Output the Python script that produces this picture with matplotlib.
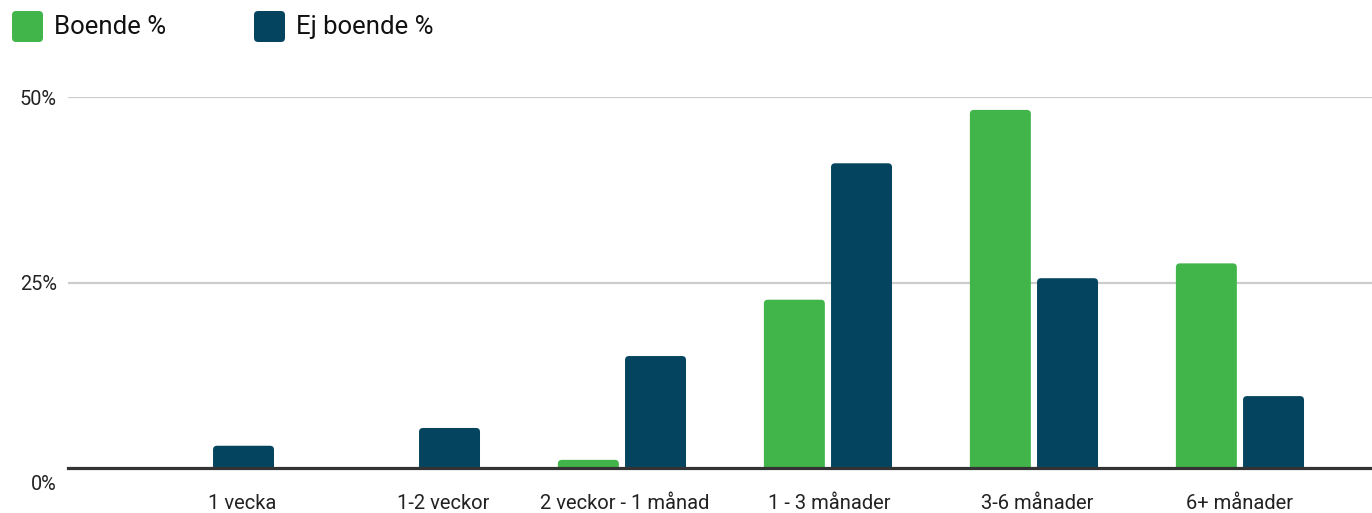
import numpy as np
import matplotlib.pyplot as plt
import matplotlib.transforms as mtransforms
from matplotlib.patches import FancyBboxPatch

plt.rcParams['font.family'] = ['Roboto', 'DejaVu Sans']

categories = ["1 vecka", "1-2 veckor", "2 veckor - 1 månad", "1 - 3 månader", "3-6 månader", "6+ månader"]
boende = [0.0, 0.0, 1.1, 22.7, 48.3, 27.6]
ej_boende = [3.0, 5.4, 15.1, 41.1, 25.6, 9.7]
series_names = ["Boende %", "Ej boende %"]
yticks = [0, 25, 50]
ytick_labels = ["0%", "25%", "50%"]

green = "#41b54a"
navy = "#05445f"

W, H, DPI = 13.72, 5.13, 100
fig = plt.figure(figsize=(W, H), dpi=DPI)
ax = fig.add_axes([68 / 1372, 1 - 468 / 513, 1 - 68 / 1372, (468 - 97.3) / 513])

x = np.arange(len(categories))
bw = 0.296
off = 0.163
xlim = (-0.689, 5.641)
ylim = (0, 50)
ax.set_xlim(*xlim)
ax.set_ylim(*ylim)

# pixel size of one data unit, used to keep corner rounding circular
px_x = ax.get_position().width * W * DPI / (xlim[1] - xlim[0])
px_y = ax.get_position().height * H * DPI / (ylim[1] - ylim[0])
r = 4 / px_x

def rounded_bars(xs, vals, color):
    for xi, v in zip(xs, vals):
        if v <= 0:
            continue
        p = FancyBboxPatch((xi - bw / 2, -1), bw, v + 1,
                           boxstyle=f"round,pad=0,rounding_size={r}",
                           mutation_aspect=px_x / px_y,
                           fc=color, ec="none", zorder=2)
        ax.add_patch(p)

rounded_bars(x - off, boende, green)
rounded_bars(x + off, ej_boende, navy)

for yv in yticks[1:]:
    ax.axhline(yv, color="#cccccc", lw=1.6, zorder=1)
ax.axhline(0, color="#333333", lw=2.3, zorder=3, clip_on=False)

for s in ax.spines.values():
    s.set_visible(False)

ax.set_yticks(yticks)
ax.set_yticklabels(ytick_labels, fontsize=14.3, color="#222222")
ax.set_xticks(x)
ax.set_xticklabels(categories, fontsize=14.5, color="#222222")
ax.tick_params(axis="both", length=0)
ax.tick_params(axis="y", pad=8)
ax.tick_params(axis="x", pad=19)

# label nudges (pixels)
x_shift = [32, 27, 3, 1, 3, 0]
for lab, dx in zip(ax.get_xticklabels(), x_shift):
    lab.set_transform(lab.get_transform() + mtransforms.ScaledTranslation(dx / DPI, 0, fig.dpi_scale_trans))
ylab = ax.get_yticklabels()[0]
ylab.set_transform(ylab.get_transform() + mtransforms.ScaledTranslation(0, -15 / DPI, fig.dpi_scale_trans))

# legend along the top
for i, (name, col) in enumerate(zip(series_names, [green, navy])):
    x0 = 12 + i * 242
    sq = FancyBboxPatch((x0 / 1372, 1 - 42 / 513), 31 / 1372, 31 / 513,
                        boxstyle="round,pad=0,rounding_size=0.003",
                        mutation_aspect=W / H,
                        transform=fig.transFigure, fc=col, ec="none")
    fig.add_artist(sq)
    fig.text((x0 + 42) / 1372, 1 - 27 / 513, name, fontsize=18.5, color="#111111",
             va="center", ha="left")

fig.savefig("out.png", dpi=DPI)
